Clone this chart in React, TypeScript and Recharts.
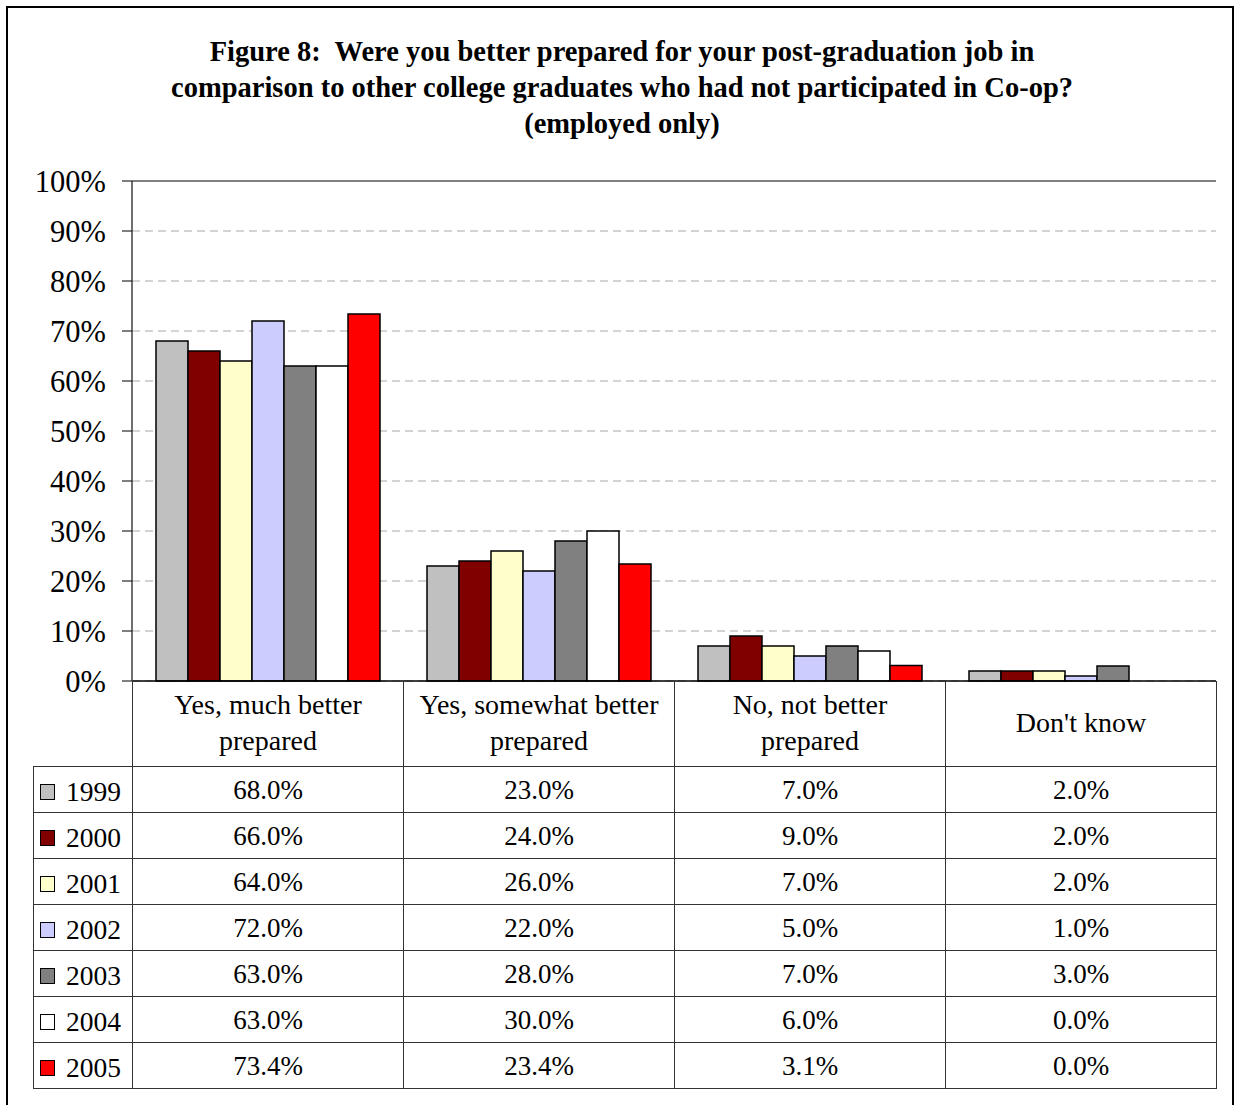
import React from 'react';
import { BarChart, Bar, XAxis, YAxis, CartesianGrid, ReferenceLine } from 'recharts';

const categories = [
  "Yes, much better\nprepared",
  "Yes, somewhat better\nprepared",
  "No, not better\nprepared",
  "Don't know",
];
const years = ["1999", "2000", "2001", "2002", "2003", "2004", "2005"];
const v1999 = [68.0, 23.0, 7.0, 2.0];
const v2000 = [66.0, 24.0, 9.0, 2.0];
const v2001 = [64.0, 26.0, 7.0, 2.0];
const v2002 = [72.0, 22.0, 5.0, 1.0];
const v2003 = [63.0, 28.0, 7.0, 3.0];
const v2004 = [63.0, 30.0, 6.0, 0.0];
const v2005 = [73.4, 23.4, 3.1, 0.0];
const seriesValues = [v1999, v2000, v2001, v2002, v2003, v2004, v2005];
const colors = ["#C0C0C0", "#800000", "#FFFFCC", "#CCCCFF", "#808080", "#FFFFFF", "#FF0000"];
const yTicks = [0, 10, 20, 30, 40, 50, 60, 70, 80, 90, 100];
const titleLines = [
  "Figure 8:  Were you better prepared for your post-graduation job in",
  "comparison to other college graduates who had not participated in Co-op?",
  "(employed only)",
];

const data = categories.map((c, i) => {
  const row: any = { name: c };
  years.forEach((y, k) => { row[y] = seriesValues[k][i]; });
  return row;
});

const FONT = '"Liberation Serif", "Times New Roman", serif';
const W = 1235;
const H = 1105;
const PL = 132, PR = 1216, PT = 181, PB = 681;
const TABLE_LEFT = 33;
const LEG_W = PL - TABLE_LEFT;
const CAT_W = (PR - PL) / categories.length;
const HEADER_H = 85;
const ROW_H = 46;

export default function App() {
  return (
    <div style={{ position: 'absolute', left: 0, top: 0, width: W, height: H, background: '#fff', overflow: 'hidden', fontFamily: FONT }}>
      <div style={{ position: 'absolute', left: 6, top: 6, width: 1224, height: 1120, border: '2px solid #000' }} />
      <div style={{ position: 'absolute', left: 0, top: 34, width: 1244, textAlign: 'center', fontWeight: 'bold', fontSize: 28.5, lineHeight: '36px', color: '#000' }}>
        {titleLines.map((t, i) => <div key={i} style={{ whiteSpace: 'pre' }}>{t}</div>)}
      </div>
      <div style={{ position: 'absolute', left: 0, top: 0 }}>
        <BarChart width={W} height={H} data={data}
          margin={{ top: PT, right: W - PR, bottom: H - PB - 1, left: 0 }}
          barCategoryGap={24} barGap={0}>
          <CartesianGrid vertical={false} stroke="#a8a8a8" strokeDasharray="8 5" />
          <ReferenceLine y={100} stroke="#808080" strokeWidth={2} />
          <XAxis dataKey="name" height={1} tick={false} tickLine={false} axisLine={{ stroke: '#000', strokeWidth: 1.5 }} />
          <YAxis width={PL} domain={[0, 100]} ticks={yTicks} interval={0}
            tickFormatter={(v: number) => `${v}%`}
            tick={{ fill: '#000', fontSize: 30.5, fontFamily: FONT }}
            tickSize={10} tickMargin={16}
            tickLine={{ stroke: '#000' }} axisLine={{ stroke: '#404040', strokeWidth: 1.5 }} />
          <YAxis yAxisId="r" orientation="right" width={0} domain={[0, 100]} tick={false} tickLine={false} axisLine={{ stroke: '#808080', strokeWidth: 2 }} />
          {years.map((y, k) => (
            <Bar key={y} dataKey={y} fill={colors[k]} stroke="#000" strokeWidth={1.5} isAnimationActive={false} />
          ))}
        </BarChart>
      </div>
      <table style={{ position: 'absolute', left: TABLE_LEFT, top: PB, borderCollapse: 'collapse', tableLayout: 'fixed', width: PR - TABLE_LEFT, fontFamily: FONT, color: '#000' }}>
        <colgroup>
          <col style={{ width: LEG_W }} />
          {categories.map((c, i) => <col key={i} style={{ width: CAT_W }} />)}
        </colgroup>
        <tbody>
          <tr style={{ height: HEADER_H }}>
            <td style={{ borderBottom: '1px solid #333', padding: 0 }} />
            {categories.map((c, i) => (
              <td key={i} style={{ border: '1px solid #333', borderTop: 'none', textAlign: 'center', whiteSpace: 'pre-line', fontSize: 28, lineHeight: '36px', padding: 0 }}>{c}</td>
            ))}
          </tr>
          {years.map((y, k) => (
            <tr key={y} style={{ height: ROW_H }}>
              <td style={{ border: '1px solid #333', padding: 0, fontSize: 27.5, whiteSpace: 'nowrap', lineHeight: '30px', paddingTop: 3 }}>
                <span style={{ display: 'inline-block', width: 13, height: 14, background: colors[k], border: '1.5px solid #000', marginLeft: 6, marginRight: 11, verticalAlign: 'middle', position: 'relative', top: 0 }} />
                <span style={{ verticalAlign: 'middle' }}>{y}</span>
              </td>
              {seriesValues[k].map((v, i) => (
                <td key={i} style={{ border: '1px solid #333', textAlign: 'center', fontSize: 27, padding: 0, paddingTop: 3 }}>{v.toFixed(1)}%</td>
              ))}
            </tr>
          ))}
        </tbody>
      </table>
    </div>
  );
}
